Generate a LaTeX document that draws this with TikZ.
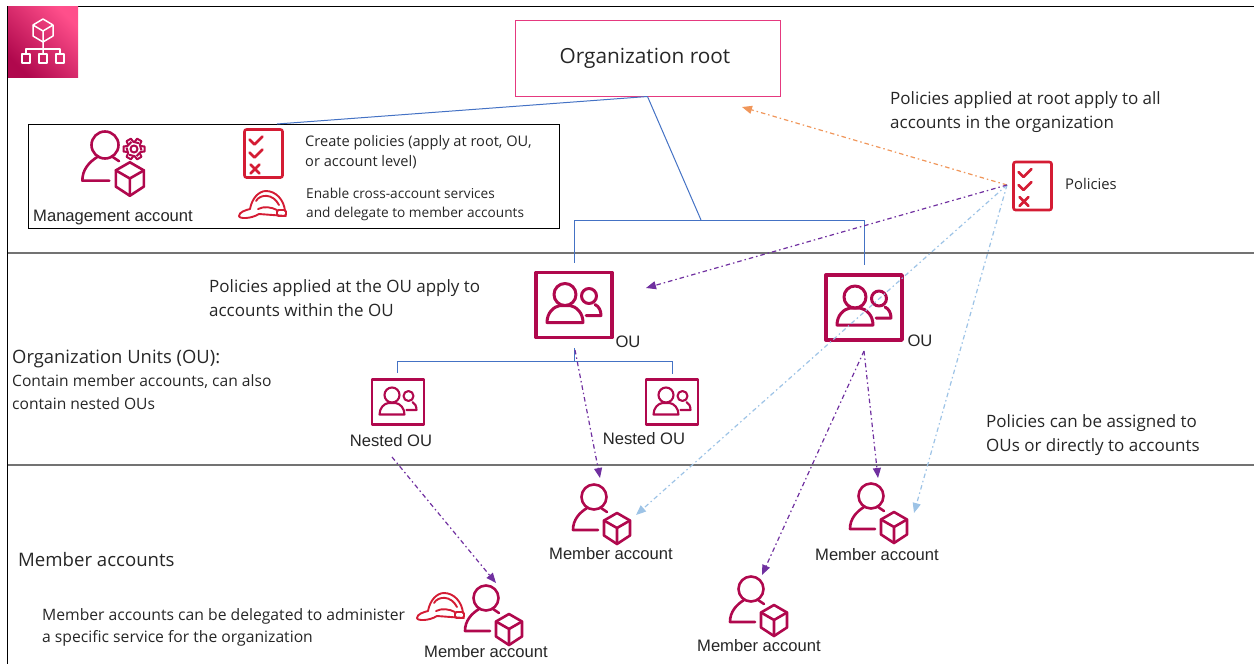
\documentclass[tikz,border=0pt]{standalone}
\usepackage{fontspec}
\setmainfont{Open Sans}
\newfontfamily\arialf{Liberation Sans}
\usetikzlibrary{arrows.meta}
\definecolor{crim}{HTML}{B0084D}
\definecolor{polred}{HTML}{D41C34}
\definecolor{txt}{HTML}{262626}
\definecolor{rootpink}{HTML}{E5397F}
\definecolor{tilepink}{HTML}{FF4F8B}
\definecolor{conn}{HTML}{4472C4}
\definecolor{purp}{HTML}{7030A0}
\definecolor{lblue}{HTML}{9DC3E6}
\definecolor{orng}{HTML}{F0965A}
\tikzset{
  x=1pt,y=-1pt,
  hub/.style={inner sep=0pt,outer sep=0pt,minimum width=#1,minimum height=#1},
  lbl/.style={inner sep=0pt,anchor=west,text=txt,font=\fontsize{17}{24}\selectfont,align=left},
  alab/.style={inner sep=0pt,text=txt,font=\arialf\fontsize{16.6}{18}\selectfont},
  link/.style={draw=conn,line width=1pt},
  flow/.style={line width=1.2pt,dash pattern=on 4.5pt off 3pt on 1.5pt off 3pt,
     -{Triangle[length=10pt,width=8pt]}},
  band/.style={draw=black!55,line width=1.2pt},
  usericon/.pic={
    \begin{scope}[draw=crim,line width=2.6pt,line join=round,line cap=round]
      \draw (0,0) circle[radius=12.5];
      \draw (4,33) -- (-21,33) .. controls (-21,23) and (-15,16) .. (-7,11);
      \draw (7,11) -- (13,15);
      \draw (23,16) -- (36,23.5) -- (36,38.5) -- (23,47) -- (10,38.5) -- (10,23.5) -- cycle;
      \draw (10,23.5) -- (23,31) -- (36,23.5) (23,31) -- (23,47);
    \end{scope}
  },
  ouicon/.pic={
    \begin{scope}[draw=crim,line width=3.4pt,line join=round,line cap=round]
      \draw (-38,-32) rectangle (38,33);
      \draw[line width=3pt] (-9,-10) circle[radius=11];
      \draw[line width=3pt] (-27,18) .. controls (-27,8) and (-20,2) .. (-14,1) -- (-4,1) .. controls (2,2) and (9,8) .. (9,18) -- cycle;
      \draw[line width=3pt] (15,-8.5) circle[radius=7.5];
      \draw[line width=3pt] (12,11) -- (27,11) .. controls (27,6) and (25,2) .. (21,0);
    \end{scope}
  },
  smallou/.pic={
    \begin{scope}[draw=crim,line width=2.4pt,line join=round,line cap=round]
      \draw (-26,-22.5) rectangle (26,22.5);
      \draw[line width=2.1pt] (-6,-7) circle[radius=7.5];
      \draw[line width=2.1pt] (-18.5,12.5) .. controls (-18.5,6) and (-14,1.5) .. (-9.5,1) -- (-2.5,1) .. controls (2,1.5) and (6.5,6) .. (6.5,12.5) -- cycle;
      \draw[line width=2.1pt] (10.5,-6) circle[radius=5];
      \draw[line width=2.1pt] (8.5,8) -- (18.5,8) .. controls (18.5,4) and (17,1.5) .. (14.5,0);
    \end{scope}
  },
  polic/.pic={
    \begin{scope}[draw=polred,line width=2.6pt,line join=round,line cap=round]
      \draw[rounded corners=2pt] (-19,-24) rectangle (19,24);
      \draw (-14,-14) -- (-9,-9) -- (-1,-17);
      \draw (-14,-1) -- (-9,4) -- (-1,-4);
      \draw (-13,11) -- (-4,20) (-4,11) -- (-13,20);
    \end{scope}
  },
  hardhat/.pic={
    \begin{scope}[draw=polred,line width=1.9pt,line join=round,line cap=round]
      \draw (-13,5) .. controls (-11,-6) and (-4,-13) .. (3,-13) .. controls (13,-13) and (21,-4) .. (22,7);
      \draw (-13,5) .. controls (-17,6) and (-24,8) .. (-24,12) .. controls (-24,15) and (-12,15) .. (-4,10) -- (23,12);
      \draw (-5,5) .. controls (1,2) and (8,3) .. (14,6);
      \draw (-7,-3) .. controls (-3,-10) and (10,-11) .. (16,1);
      \draw[rounded corners=1.5pt] (14,6) rectangle (23,12);
    \end{scope}
  }
}
\begin{document}
\begin{tikzpicture}
\useasboundingbox (0,0) rectangle (1254,664);
% frame
\draw[black,line width=1.1pt] (1254,6.5) -- (7.5,6.5) -- (7.5,664);
\draw[band] (8,253) -- (1254,253);
\draw[band] (8,465) -- (1254,465);
% logo tile
\node[hub=0pt,minimum width=70pt,minimum height=71pt,anchor=north west,top color=tilepink,bottom color=crim,shading angle=-45] (logo) at (8,6) {};
\begin{scope}[draw=white,line width=1.5pt,line join=round]
  \draw (43,19) -- (53,25) -- (53,36) -- (43,42) -- (33,36) -- (33,25) -- cycle;
  \draw (33,25) -- (43,31) -- (53,25) (43,31) -- (43,54);
  \draw (26,54) -- (26,49) -- (60,49) -- (60,54);
  \draw (22,54) rectangle (30,63);
  \draw (39,54) rectangle (47,63);
  \draw (56,54) rectangle (64,63);
\end{scope}
% boxes
\node[draw=rootpink,line width=1pt,minimum width=265pt,minimum height=76pt,inner sep=0pt] (root) at (647.5,58) {};
\node[inner sep=0pt,text=txt,font=\fontsize{20.8}{26}\selectfont] (roottxt) at (645,58) {Organization root};
\node[draw=black,line width=1pt,minimum width=531pt,minimum height=104pt,inner sep=0pt] (mgmt) at (293.5,176) {};
% management icons
\node[hub=1pt] (mgr) at (105,145) {};
\pic[scale=1.08] at (mgr) {usericon};
\node[hub=1pt] (gear) at (134,149) {};
\draw[crim,line width=2pt,line join=round] (gear) circle[radius=3.5];
\foreach \a in {0,60,...,300}{
  \draw[crim,line width=2pt,line join=round,shift={(134,149)},rotate=\a]
    (6.5,-3) -- (10.5,-2.5) -- (10.5,2.5) -- (6.5,3) -- (2.5,7.2);
}
\node[hub=1pt] (polA) at (263.5,153.5) {};
\pic[scale=1] at (polA) {polic};
\node[hub=1pt] (hatA) at (263,204) {};
\pic at (hatA) {hardhat};
\node[alab,anchor=west] (mgmtlbl) at (33,218) {Management account};
\node[lbl,font=\fontsize{14.6}{20}\selectfont] (createtxt) at (305,152) {Create policies (apply at root, OU,\\or account level)};
\node[lbl,font=\fontsize{13.65}{19}\selectfont] (enabletxt) at (306,204) {Enable cross-account services\\and delegate to member accounts};
% OU icons
\node[hub=1pt] (ou1) at (574,304.5) {};
\pic at (ou1) {ouicon};
\node[hub=1pt] (ou2) at (864,307) {};
\pic at (ou2) {ouicon};
\node[hub=1pt] (nest1) at (398,402) {};
\pic at (nest1) {smallou};
\node[hub=1pt] (nest2) at (672,402) {};
\pic at (nest2) {smallou};
\node[alab] (ou1l) at (628,342) {OU};
\node[alab] (ou2l) at (920,341) {OU};
\node[alab] (n1l) at (391,441) {Nested OU};
\node[alab] (n2l) at (644,439) {Nested OU};
% policies
\node[hub=1pt] (pol) at (1032.5,186) {};
\pic at (pol) {polic};
\node[lbl,font=\fontsize{14.8}{16}\selectfont] (pollbl) at (1065,184) {Policies};
% member icons
\node[hub=1pt] (m1) at (594,497) {};
\pic at (m1) {usericon};
\node[hub=1pt] (m2) at (871,496) {};
\pic at (m2) {usericon};
\node[hub=1pt] (m3) at (751,589) {};
\pic at (m3) {usericon};
\node[hub=1pt] (m4) at (486,598) {};
\pic at (m4) {usericon};
\node[hub=1pt] (hatB) at (441,606) {};
\pic at (hatB) {hardhat};
\node[alab] (m1l) at (611,554) {Member account};
\node[alab] (m2l) at (877,555) {Member account};
\node[alab] (m3l) at (759,646) {Member account};
\node[alab] (m4l) at (486,652) {Member account};
% free texts
\node[lbl] (t1) at (890,112) {Policies applied at root apply to all\\accounts in the organization};
\node[lbl] (t2) at (209,298.5) {Policies applied at the OU apply to\\accounts within the OU};
\node[lbl,font=\fontsize{18.4}{22}\selectfont] (t3) at (12,358.5) {Organization Units (OU):};
\node[lbl,font=\fontsize{15.6}{23}\selectfont] (t4) at (12,392) {Contain member accounts, can also\\contain nested OUs};
\node[lbl] (t5) at (986,435) {Policies can be assigned to\\OUs or directly to accounts};
\node[lbl,font=\fontsize{18.6}{22}\selectfont] (t6) at (18,560) {Member accounts};
\node[lbl,font=\fontsize{15.7}{22}\selectfont] (t7) at (42,627) {Member accounts can be delegated to administer\\a specific service for the organization};
% connector helpers
\coordinate (jA) at (277,124);
\coordinate (jB) at (701,220);
\coordinate (jL) at (574,220);
\coordinate (jR) at (864,220);
\coordinate (ou1top) at (574,263);
\coordinate (ou2top) at (864,265);
\coordinate (ou1bot) at (574,348);
\coordinate (jN) at (574,361);
\coordinate (jNL) at (397,361);
\coordinate (jNR) at (672,361);
\coordinate (nest1top) at (397,373);
\coordinate (nest2top) at (672,374);
\coordinate (polT) at (1007,185);
\coordinate (rootA) at (742,107);
\coordinate (ou1A) at (646,288);
\coordinate (m1B) at (636,515);
\coordinate (m2B) at (914,513);
\coordinate (ou1S) at (575,350);
\coordinate (m1A) at (600,478);
\coordinate (ou2S) at (864,351);
\coordinate (m3A) at (762,575);
\coordinate (m2A) at (878,478);
\coordinate (n1S) at (392,457);
\coordinate (m4A) at (496,583);
% connectors
\draw[link] (root.south) -- (jA);
\draw[link] (root.south) -- (jB);
\draw[link] (jL) -- (jR);
\draw[link] (jL) -- (ou1top);
\draw[link] (jR) -- (ou2top);
\draw[link] (ou1bot) -- (jN);
\draw[link] (jNL) -- (jNR);
\draw[link] (jNL) -- (nest1top);
\draw[link] (jNR) -- (nest2top);
\draw[flow,draw=orng,-{Triangle[length=10pt,width=8pt,fill=orng]}] (polT) -- (rootA);
\draw[flow,draw=lblue] (polT) -- (m1B);
\draw[flow,draw=lblue] (polT) -- (m2B);
\draw[flow,draw=purp] (polT) -- (ou1A);
\draw[flow,draw=purp] (ou1S) -- (m1A);
\draw[flow,draw=purp] (ou2S) -- (m3A);
\draw[flow,draw=purp] (ou2S) -- (m2A);
\draw[flow,draw=purp] (n1S) -- (m4A);
\end{tikzpicture}
\end{document}
